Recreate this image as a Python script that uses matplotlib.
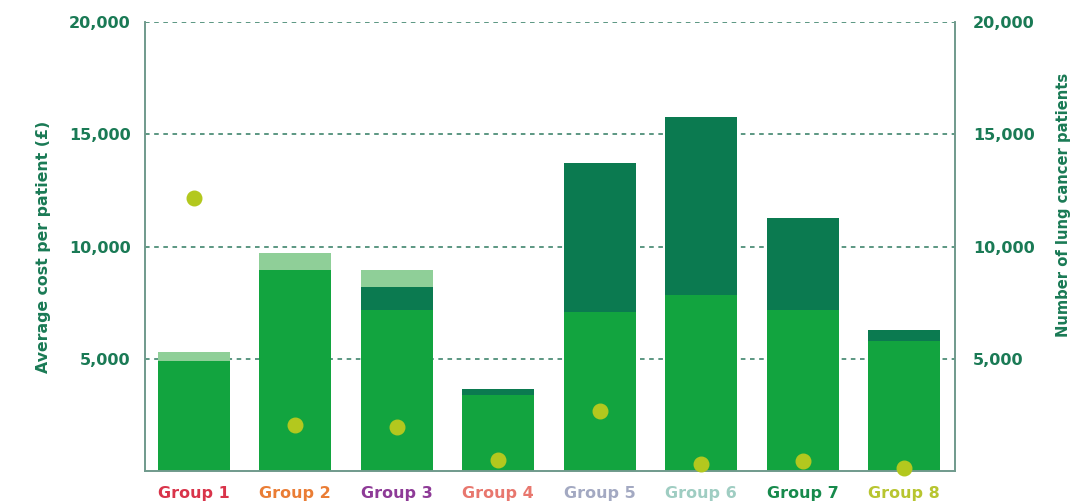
import matplotlib.pyplot as plt
import numpy as np

groups = ['Group 1', 'Group 2', 'Group 3', 'Group 4', 'Group 5', 'Group 6', 'Group 7', 'Group 8']
label_colors = ['#d9344a', '#ea7d35', '#8e3b97', '#e8776e', '#a3a9c2', '#9fcdc2', '#178a4c', '#b8c530']

# stacked cost bars (cumulative tops of each band)
green_top = [4900, 8950, 7170, 3400, 7080, 7840, 7170, 5790]
dark_top = [4900, 8950, 8200, 3650, 13720, 15770, 11270, 6280]
total_cost = [5300, 9710, 8950, 3650, 13720, 15770, 11270, 6280]

# number of patients (right axis)
patients = [12150, 2050, 1960, 490, 2670, 310, 450, 130]

green = '#12a43f'
dark = '#0b7a50'
light = '#8fcf98'
axis_green = '#1a7a55'

plt.rcParams['font.family'] = ['DejaVu Sans']

fig = plt.figure(figsize=(10.84, 5.04), dpi=100)
ax = fig.add_axes([0.1338, 0.0655, 0.7472, 0.8908])

x = np.arange(len(groups))
w = 0.71
g = np.array(green_top)
d = np.array(dark_top)
t = np.array(total_cost)
ax.bar(x, g, width=w, color=green, zorder=2)
ax.bar(x, d - g, bottom=g, width=w, color=dark, zorder=2)
ax.bar(x, t - d, bottom=d, width=w, color=light, zorder=2)

ax.set_xlim(-0.48, 7.5)
ax.set_ylim(0, 20000)
ax.set_yticks([5000, 10000, 15000, 20000])
ax.set_yticklabels(['5,000', '10,000', '15,000', '20,000'])
ax.yaxis.grid(True, linestyle=(0, (3, 3)), color='#2f7a60', linewidth=1.1, zorder=0)
ax.set_axisbelow(True)
ax.tick_params(axis='y', length=0, pad=10.5, labelsize=11.5, labelcolor=axis_green)
ax.set_xticks(x)
ax.set_xticklabels(groups, fontweight='bold', fontsize=11.5)
for lbl, c in zip(ax.get_xticklabels(), label_colors):
    lbl.set_color(c)
ax.tick_params(axis='x', length=0, pad=10.5)
for lbl in ax.get_yticklabels():
    lbl.set_fontweight('bold')
ax.set_ylabel('Average cost per patient (£)', color=axis_green, fontweight='bold', fontsize=11.3, labelpad=13)

ax.spines['top'].set_visible(False)
for s in ['left', 'bottom', 'right']:
    ax.spines[s].set_color('#6f9a8c')
    ax.spines[s].set_linewidth(1.2)

ax2 = ax.twinx()
ax2.set_ylim(0, 20000)
ax2.scatter(x, patients, s=110, color='#b3c81e', zorder=5, clip_on=False)
ax2.set_yticks([5000, 10000, 15000, 20000])
ax2.set_yticklabels(['5,000', '10,000', '15,000', '20,000'])
ax2.tick_params(axis='y', length=0, pad=13, labelsize=11.5, labelcolor=axis_green)
for lbl in ax2.get_yticklabels():
    lbl.set_fontweight('bold')
ax2.set_ylabel('Number of lung cancer patients', color=axis_green, fontweight='bold', fontsize=10.6, labelpad=15)
ax2.yaxis.label.set_y(0.592)
ax2.spines['top'].set_visible(False)
for s in ['left', 'bottom', 'right']:
    ax2.spines[s].set_color('#6f9a8c')
    ax2.spines[s].set_linewidth(1.2)

fig.savefig('out.png', dpi=100)
